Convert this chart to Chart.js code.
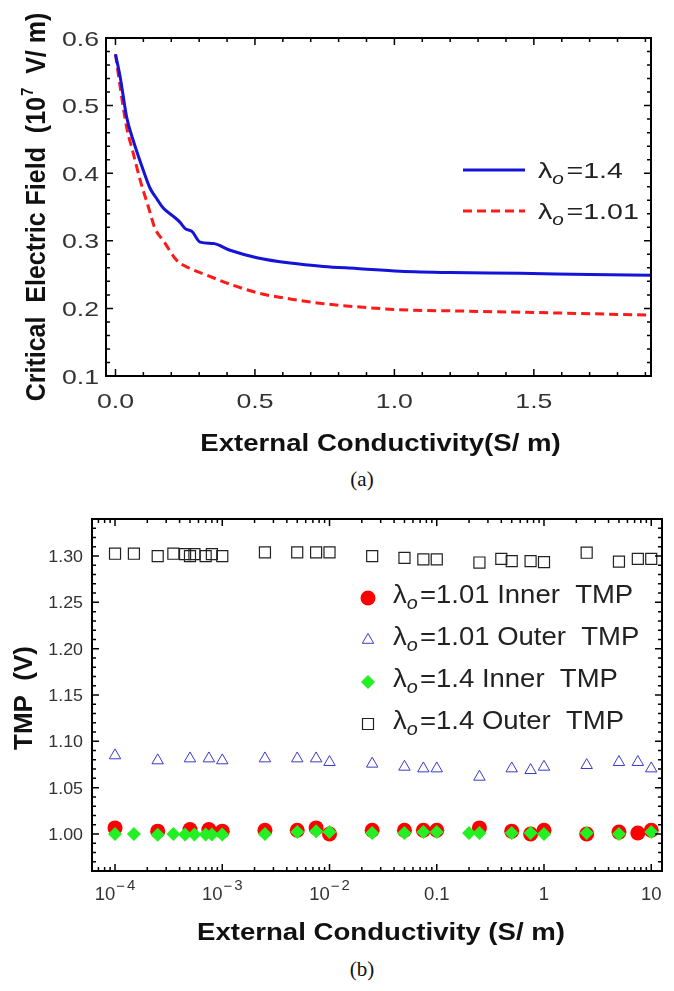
<!DOCTYPE html>
<html lang="en">

<head>
    <meta charset="UTF-8">
    <script src="https://cdn.jsdelivr.net/npm/chart.js@4.4.3/dist/chart.umd.min.js"></script>
    <style>
        html, body {
            margin: 0;
            padding: 0;
            background: #fff;
            width: 674px;
            height: 991px;
            overflow: hidden;
        }

        canvas {
            position: absolute;
            left: 0;
        }

        .caption {
            position: absolute;
            left: 0;
            width: 724px;
            text-align: center;
            font-family: "Liberation Serif", "DejaVu Serif", serif;
            font-size: 21px;
            color: #111;
        }
    </style>
</head>

<body>
    <canvas id="chart_a" width="674" height="462" style="top: 0px;"></canvas>
    <div class="caption" style="top: 467px;">(a)</div>
    <canvas id="chart_b" width="674" height="460" style="top: 495px;"></canvas>
    <div class="caption" style="top: 957px;">(b)</div>

    <script>
        // ---- (a) critical electric field vs external conductivity ----
        const cond_14 = [0, 0.017, 0.04, 0.064, 0.1, 0.125, 0.15, 0.172, 0.205, 0.23, 0.25, 0.274, 0.304, 0.351, 0.411, 0.507, 0.626, 0.746, 0.865, 1.02, 1.2, 1.45, 1.7, 1.92];
        const field_14 = [0.576, 0.542, 0.483, 0.448, 0.404, 0.377, 0.361, 0.348, 0.337, 0.328, 0.318, 0.314, 0.298, 0.296, 0.286, 0.275, 0.267, 0.262, 0.259, 0.255, 0.253, 0.252, 0.250, 0.249];
        const cond_101 = [0, 0.017, 0.04, 0.064, 0.089, 0.118, 0.142, 0.172, 0.22, 0.268, 0.328, 0.423, 0.519, 0.626, 0.746, 0.877, 1.02, 1.25, 1.5, 1.92];
        const field_101 = [0.576, 0.527, 0.468, 0.429, 0.389, 0.350, 0.318, 0.300, 0.271, 0.259, 0.249, 0.234, 0.222, 0.214, 0.207, 0.202, 0.198, 0.196, 0.194, 0.190];
        const lambda_a = ["1.4", "1.01"];
        const x_ticks_a = [0, 0.5, 1.0, 1.5];
        const y_ticks_a = [0.1, 0.2, 0.3, 0.4, 0.5, 0.6];

        // ---- (b) TMP vs external conductivity ----
        const inner_101_x = [1e-4, 2.5e-4, 5e-4, 7.5e-4, 1e-3, 2.5e-3, 5e-3, 7.5e-3, 1e-2, 0.025, 0.05, 0.075, 0.1, 0.25, 0.5, 0.75, 1, 2.5, 5, 7.5, 10];
        const inner_101_y = [1.0065, 1.003, 1.0047, 1.0047, 1.003, 1.004, 1.004, 1.0065, 1.000, 1.004, 1.004, 1.004, 1.004, 1.0065, 1.003, 1.000, 1.004, 1.000, 1.002, 1.001, 1.004];
        const outer_101_x = [1e-4, 2.5e-4, 5e-4, 7.5e-4, 1e-3, 2.5e-3, 5e-3, 7.5e-3, 1e-2, 0.025, 0.05, 0.075, 0.1, 0.25, 0.5, 0.75, 1, 2.5, 5, 7.5, 10];
        const outer_101_y = [1.0847, 1.0793, 1.0814, 1.0814, 1.0793, 1.0814, 1.0814, 1.0814, 1.0775, 1.0757, 1.0724, 1.0706, 1.0706, 1.0616, 1.0706, 1.0688, 1.0724, 1.0742, 1.0775, 1.0775, 1.0706];
        const inner_14_x = [1e-4, 1.5e-4, 2.5e-4, 3.5e-4, 4.5e-4, 5.5e-4, 7e-4, 8e-4, 1e-3, 2.5e-3, 5e-3, 7.5e-3, 1e-2, 0.025, 0.05, 0.075, 0.1, 0.2, 0.25, 0.5, 0.75, 1, 2.5, 5, 10];
        const inner_14_y = [1.000, 1.000, 0.999, 1.000, 0.9995, 0.9995, 0.9995, 0.9995, 0.9995, 1.000, 1.002, 1.003, 1.002, 1.001, 1.001, 1.002, 1.002, 1.001, 1.001, 1.001, 1.001, 1.000, 1.001, 1.000, 1.002];
        const outer_14_x = [1e-4, 1.5e-4, 2.5e-4, 3.5e-4, 4.5e-4, 5e-4, 5.5e-4, 7e-4, 8e-4, 1e-3, 2.5e-3, 5e-3, 7.5e-3, 1e-2, 0.025, 0.05, 0.075, 0.1, 0.25, 0.4, 0.5, 0.75, 1, 2.5, 5, 7.5, 10];
        const outer_14_y = [1.3025, 1.3025, 1.300, 1.3025, 1.302, 1.300, 1.302, 1.300, 1.302, 1.300, 1.304, 1.304, 1.304, 1.304, 1.300, 1.298, 1.2965, 1.2965, 1.293, 1.297, 1.2945, 1.2945, 1.2935, 1.3036, 1.294, 1.297, 1.297];
        const legend_b = [["1.01", "Inner  TMP"], ["1.01", "Outer  TMP"], ["1.4", "Inner  TMP"], ["1.4", "Outer  TMP"]];
        // tick labels: [base, exponent]
        const x_ticks_b = [1e-4, 1e-3, 1e-2, 0.1, 1, 10];
        const x_labels_b = [["10", "4"], ["10", "3"], ["10", "2"], ["0.1", ""], ["1", ""], ["10", ""]];
        const y_ticks_b = [1.00, 1.05, 1.10, 1.15, 1.20, 1.25, 1.30];

        const FONT = '"Liberation Sans", Arial, sans-serif';
        Chart.defaults.font.family = FONT;

        const to_points = (xs, ys) => xs.map((x, i) => ({ x: x, y: ys[i] }));

        // draws runs of text on one baseline; the original figure's text is a bit widened, so allow a stretch
        function draw_runs(ctx, runs, x, y, o) {
            o = Object.assign({ align: "center", rotate: 0, sx: 1, sy: 1, color: "#222" }, o);
            ctx.save();
            ctx.translate(x, y);
            if (o.rotate) ctx.rotate(o.rotate);
            ctx.scale(o.sx, o.sy);
            ctx.fillStyle = o.color;
            ctx.textBaseline = "alphabetic";
            ctx.textAlign = "left";
            const font_of = r => `${r.italic ? "italic " : ""}${r.bold ? "bold " : ""}${r.size}px ${FONT}`;
            let total = 0;
            for (const r of runs) {
                ctx.font = font_of(r);
                r.w = ctx.measureText(r.t).width + (r.gap || 0);
                total += r.w;
            }
            let cx = o.align == "center" ? -total / 2 : o.align == "right" ? -total : 0;
            for (const r of runs) {
                ctx.font = font_of(r);
                ctx.fillText(r.t, cx + (r.pre || 0), r.dy || 0);
                cx += r.w;
            }
            ctx.restore();
        }

        function lambda_runs(value, rest, size) {
            return [
                { t: "\u03BB", size: size },
                { t: "o", size: Math.round(size * 0.72), italic: true, dy: size * 0.25, gap: 2 },
                { t: "=" + value + (rest ? " " + rest : ""), size: size }
            ];
        }

        // frame round the plot with inward ticks on all four sides
        function frame_plugin(x_marks, y_marks) {
            return {
                id: "frame",
                afterDraw(chart) {
                    const { ctx, chartArea: a, scales } = chart;
                    ctx.save();
                    ctx.strokeStyle = "#000";
                    ctx.lineWidth = 1.5;
                    ctx.beginPath();
                    for (const [v, len] of x_marks) {
                        const px = scales.x.getPixelForValue(v);
                        if (px < a.left - 0.5 || px > a.right + 0.5) continue;
                        ctx.moveTo(px, a.bottom); ctx.lineTo(px, a.bottom - len);
                        ctx.moveTo(px, a.top); ctx.lineTo(px, a.top + len);
                    }
                    for (const [v, len] of y_marks) {
                        const py = scales.y.getPixelForValue(v);
                        if (py < a.top - 0.5 || py > a.bottom + 0.5) continue;
                        ctx.moveTo(a.left, py); ctx.lineTo(a.left + len, py);
                        ctx.moveTo(a.right, py); ctx.lineTo(a.right - len, py);
                    }
                    ctx.stroke();
                    ctx.lineWidth = 2;
                    ctx.strokeRect(a.left, a.top, a.right - a.left, a.bottom - a.top);
                    ctx.restore();
                }
            };
        }

        function linear_marks(from, to, minor, major_every) {
            let marks = [];
            let n = Math.round((to - from) / minor);
            for (let i = 0; i <= n; i++)
                marks.push([from + i * minor, i % major_every == 0 ? 7 : 4]);
            return marks;
        }

        function log_marks(from_exp, to_exp) {
            let marks = [];
            for (let e = from_exp; e <= to_exp; e++)
                for (let k = 1; k <= 9; k++)
                    marks.push([k * Math.pow(10, e), k == 1 ? 7 : 4]);
            return marks;
        }

        // ---- text of chart (a): tick labels, axis titles, legend ----
        const text_a_plugin = {
            id: "text_a",
            afterDraw(chart) {
                const { ctx, chartArea: a, scales } = chart;
                for (const v of y_ticks_a)
                    draw_runs(ctx, [{ t: v.toFixed(1), size: 21 }], a.left - 7, scales.y.getPixelForValue(v) + 7.5,
                        { align: "right", sx: 1.27, color: "#333" });
                for (const v of x_ticks_a)
                    draw_runs(ctx, [{ t: v.toFixed(1), size: 21 }], scales.x.getPixelForValue(v), a.bottom + 32,
                        { sx: 1.27, color: "#333" });

                draw_runs(ctx, [{ t: "External Conductivity(S/ m)", size: 23, bold: true }],
                    (a.left + a.right) / 2 + 2, a.bottom + 75, { sx: 1.2, color: "#111" });
                // rotated title: anchor is the baseline, glyphs grow to the left
                draw_runs(ctx, [
                    { t: "Critical  Electric Field  (10", size: 25, bold: true, gap: 1 },
                    { t: "7", size: 15, bold: true, dy: -11 },
                    { t: "  V/ m)", size: 25, bold: true }
                ], 45, (a.top + a.bottom) / 2, { rotate: -Math.PI / 2, sy: 1.12, color: "#111" });
            }
        };

        const legend_a_plugin = {
            id: "legend_a",
            afterDraw(chart) {
                const { ctx, chartArea: a } = chart;
                const styles = [
                    { color: "#1414d8", dash: [] },
                    { color: "#ff1a1a", dash: [9, 5] }
                ];
                ctx.save();
                lambda_a.forEach((value, i) => {
                    const y = a.top + 132 + i * 41;
                    ctx.strokeStyle = styles[i].color;
                    ctx.lineWidth = 3;
                    ctx.setLineDash(styles[i].dash);
                    ctx.beginPath();
                    ctx.moveTo(a.left + 357, y);
                    ctx.lineTo(a.left + 419, y);
                    ctx.stroke();
                    ctx.setLineDash([]);
                    draw_runs(ctx, lambda_runs(value, "", 22), a.left + 432, y + 8, { align: "left", sx: 1.3 });
                });
                ctx.restore();
            }
        };

        // ---- text of chart (b) ----
        function draw_marker(ctx, kind, x, y) {
            ctx.beginPath();
            if (kind == "circle") {
                ctx.fillStyle = "#ff0000";
                ctx.arc(x, y, 7.5, 0, Math.PI * 2);
                ctx.fill();
            } else if (kind == "triangle") {
                ctx.strokeStyle = "#3a3ac8";
                ctx.lineWidth = 1;
                ctx.moveTo(x, y - 6.6);
                ctx.lineTo(x + 5.7, y + 3.3);
                ctx.lineTo(x - 5.7, y + 3.3);
                ctx.closePath();
                ctx.stroke();
            } else if (kind == "diamond") {
                ctx.fillStyle = "#22f022";
                ctx.moveTo(x - 7, y); ctx.lineTo(x, y - 7);
                ctx.lineTo(x + 7, y); ctx.lineTo(x, y + 7);
                ctx.closePath();
                ctx.fill();
            } else {
                ctx.strokeStyle = "#222";
                ctx.lineWidth = 1.2;
                ctx.rect(x - 5.5, y - 5.5, 11, 11);
                ctx.stroke();
            }
        }

        const text_b_plugin = {
            id: "text_b",
            afterDraw(chart) {
                const { ctx, chartArea: a, scales } = chart;
                for (const v of y_ticks_b)
                    draw_runs(ctx, [{ t: v.toFixed(2), size: 17 }], a.left - 9, scales.y.getPixelForValue(v) + 6,
                        { align: "right", sx: 1.05, color: "#333" });
                x_ticks_b.forEach((v, i) => {
                    const [base, exp] = x_labels_b[i];
                    let runs = [{ t: base, size: 18.5 }];
                    if (exp) {
                        runs.push({ t: "\u2212", size: 15, dy: -9, pre: 1, gap: 3 });
                        runs.push({ t: exp, size: 15, dy: -10 });
                    }
                    draw_runs(ctx, runs, scales.x.getPixelForValue(v), a.bottom + 29, { color: "#333" });
                });

                draw_runs(ctx, [{ t: "External Conductivity (S/ m)", size: 23, bold: true }],
                    (a.left + a.right) / 2 + 4, a.bottom + 69, { sx: 1.2, color: "#111" });
                draw_runs(ctx, [{ t: "TMP  (V)", size: 26, bold: true }],
                    22 + 9.5, (a.top + a.bottom) / 2 + 3, { rotate: -Math.PI / 2, color: "#111" });

                const kinds = ["circle", "triangle", "diamond", "square"];
                legend_b.forEach(([value, rest], i) => {
                    const y = a.top + 79 + i * 42;
                    draw_marker(ctx, kinds[i], a.left + 276, y);
                    draw_runs(ctx, lambda_runs(value, rest, 25), a.left + 301, y + 5, { align: "left", sx: 1.1 });
                });
            }
        };

        const hidden_axis = extra => Object.assign({
            grid: { display: false, drawTicks: false },
            border: { display: false },
            ticks: { display: false },
            title: { display: false }
        }, extra);

        let chart_a = new Chart(document.getElementById("chart_a"), {
            type: "scatter",
            data: {
                datasets: [
                    {
                        label: "\u03BBo=1.4",
                        data: to_points(cond_14, field_14),
                        showLine: true,
                        borderColor: "#1414d8",
                        borderWidth: 3,
                        pointRadius: 0,
                        cubicInterpolationMode: "monotone"
                    },
                    {
                        label: "\u03BBo=1.01",
                        data: to_points(cond_101, field_101),
                        showLine: true,
                        borderColor: "#ff1a1a",
                        borderWidth: 3,
                        borderDash: [9, 5],
                        pointRadius: 0,
                        cubicInterpolationMode: "monotone"
                    }
                ]
            },
            options: {
                responsive: false,
                animation: false,
                devicePixelRatio: 1,
                layout: { padding: { left: 0, right: 23, top: 38, bottom: 0 } },
                plugins: { legend: { display: false }, tooltip: { enabled: false } },
                scales: {
                    x: hidden_axis({ type: "linear", min: -0.034, max: 1.92, afterFit: scale => { scale.height = 86; } }),
                    y: hidden_axis({ type: "linear", min: 0.1, max: 0.6, afterFit: scale => { scale.width = 106; } })
                }
            },
            plugins: [frame_plugin(linear_marks(0, 1.9, 0.1, 5), linear_marks(0.1, 0.6, 0.02, 5)), text_a_plugin, legend_a_plugin]
        });

        let chart_b = new Chart(document.getElementById("chart_b"), {
            type: "scatter",
            data: {
                datasets: [
                    {
                        label: "\u03BBo=1.01 Inner TMP",
                        data: to_points(inner_101_x, inner_101_y),
                        pointStyle: "circle",
                        pointRadius: 7.5,
                        backgroundColor: "#ff0000",
                        borderWidth: 0,
                        order: 1
                    },
                    {
                        label: "\u03BBo=1.01 Outer TMP",
                        data: to_points(outer_101_x, outer_101_y),
                        pointStyle: "triangle",
                        pointRadius: 6.6,
                        backgroundColor: "rgba(0,0,0,0)",
                        borderColor: "#3a3ac8",
                        borderWidth: 1,
                        order: 2
                    },
                    {
                        label: "\u03BBo=1.4 Inner TMP",
                        data: to_points(inner_14_x, inner_14_y),
                        pointStyle: "rectRot",
                        pointRadius: 7,
                        backgroundColor: "#22f022",
                        borderWidth: 0,
                        order: 0
                    },
                    {
                        label: "\u03BBo=1.4 Outer TMP",
                        data: to_points(outer_14_x, outer_14_y),
                        pointStyle: "rect",
                        pointRadius: 7.8,
                        backgroundColor: "rgba(0,0,0,0)",
                        borderColor: "#222",
                        borderWidth: 1.2,
                        order: 3
                    }
                ]
            },
            options: {
                responsive: false,
                animation: false,
                devicePixelRatio: 1,
                layout: { padding: { left: 0, right: 12, top: 24, bottom: 0 } },
                plugins: { legend: { display: false }, tooltip: { enabled: false } },
                scales: {
                    x: hidden_axis({ type: "logarithmic", min: 6.1e-5, max: 12.6, afterFit: scale => { scale.height = 84; } }),
                    y: hidden_axis({ type: "linear", min: 0.96, max: 1.34, afterFit: scale => { scale.width = 92; } })
                }
            },
            plugins: [frame_plugin(log_marks(-5, 1), linear_marks(0.96, 1.34, 0.01, 5).map(([v, len]) => [v, Math.abs(Math.round(v * 100) % 5) == 0 ? 7 : 4])), text_b_plugin]
        });
    </script>
</body>

</html>
